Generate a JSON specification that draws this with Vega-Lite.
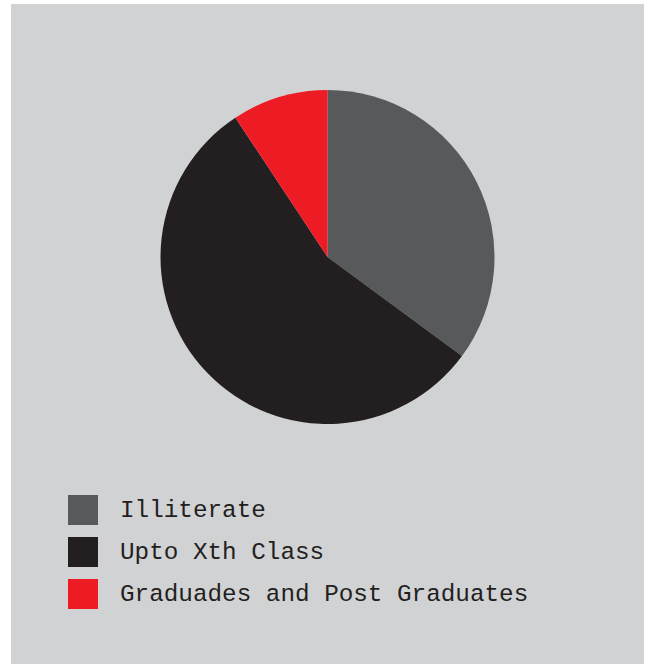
{
  "$schema": "https://vega.github.io/schema/vega-lite/v6.json",
  "width": 647,
  "height": 667,
  "autosize": {"type": "fit", "contains": "padding"},
  "padding": {"left": 11, "top": 4, "right": 3, "bottom": 3},
  "background": "white",
  "view": {"fill": "#d1d2d4", "stroke": null},
  "config": {"view": {"fill": "#d1d2d4", "stroke": null}},
  "data": {
    "values": [
      {"category": "Illiterate", "share": 35.1, "order": 1},
      {"category": "Upto Xth Class", "share": 55.6, "order": 2},
      {"category": "Graduades and Post Graduates", "share": 9.3, "order": 3}
    ]
  },
  "mark": {"type": "arc", "outerRadius": 167, "yOffset": -77},
  "encoding": {
    "theta": {"field": "share", "type": "quantitative", "stack": true},
    "order": {"field": "order", "type": "quantitative"},
    "color": {
      "field": "category",
      "type": "nominal",
      "scale": {
        "domain": ["Illiterate", "Upto Xth Class", "Graduades and Post Graduates"],
        "range": ["#58595b", "#231f20", "#ed1c24"]
      },
      "legend": {
        "orient": "none",
        "legendX": 57,
        "legendY": 491,
        "title": null,
        "padding": 0,
        "symbolType": "square",
        "symbolSize": 900,
        "symbolStrokeWidth": 0,
        "symbolOpacity": 1,
        "rowPadding": 12,
        "labelOffset": 22,
        "labelFont": "Liberation Mono",
        "labelFontSize": 24.3,
        "labelColor": "#231f20",
        "labelLimit": 600
      }
    }
  }
}
